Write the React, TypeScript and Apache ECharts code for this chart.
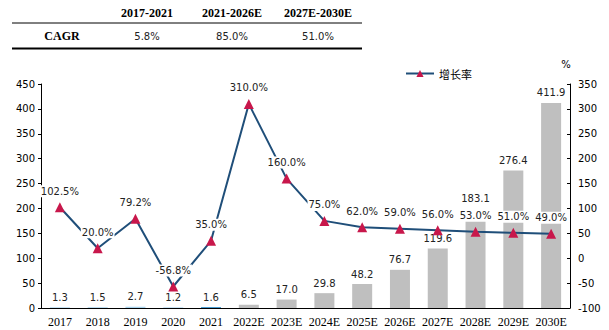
import React, { useEffect, useRef } from "react";
import * as echarts from "echarts";

const categories = ["2017", "2018", "2019", "2020", "2021", "2022E", "2023E", "2024E", "2025E", "2026E", "2027E", "2028E", "2029E", "2030E"];
const marketSize = [1.3, 1.5, 2.7, 1.2, 1.6, 6.5, 17.0, 29.8, 48.2, 76.7, 119.6, 183.1, 276.4, 411.9];
const growthRate = [102.5, 20.0, 79.2, -56.8, 35.0, 310.0, 160.0, 75.0, 62.0, 59.0, 56.0, 53.0, 51.0, 49.0];
const cagrPeriods = ["2017-2021", "2021-2026E", "2027E-2030E"];
const cagrValues = ["5.8%", "85.0%", "51.0%"];
const cagrLabel = "CAGR";
const legendName = "增长率";

const SANS = "DejaVu Sans";
const SERIF = "Liberation Serif";

export default function App() {
  const ref = useRef<HTMLDivElement>(null);
  useEffect(() => {
    if (!ref.current) return;
    const chart = echarts.init(ref.current, null, { renderer: "svg" });
    const colX = [147, 232, 318];
    const graphic: any[] = [
      { type: "line", shape: { x1: 12, y1: 23, x2: 362, y2: 23 }, style: { stroke: "#000", lineWidth: 1 } },
      { type: "line", shape: { x1: 12, y1: 48.5, x2: 362, y2: 48.5 }, style: { stroke: "#000", lineWidth: 2 } },
      { type: "text", x: 62, y: 36, style: { text: cagrLabel, font: `bold 12px "${SERIF}"`, fill: "#000", textAlign: "center", textVerticalAlign: "middle" } },
      { type: "text", x: 566, y: 64, style: { text: "%", font: `10px "${SANS}"`, fill: "#000", textAlign: "center", textVerticalAlign: "middle" } },
    ];
    cagrPeriods.forEach((p, i) => {
      graphic.push({ type: "text", x: colX[i], y: 13, style: { text: p, font: `bold 12px "${SERIF}"`, fill: "#000", textAlign: "center", textVerticalAlign: "middle" } });
      graphic.push({ type: "text", x: colX[i], y: 36, style: { text: cagrValues[i], font: `10px "${SANS}"`, fill: "#222", textAlign: "center", textVerticalAlign: "middle" } });
    });
    const barData = marketSize.map((v, i) =>
      i === 11 ? { value: v, label: { distance: 13 } } : { value: v }
    );
    chart.setOption({
      animation: false,
      backgroundColor: "#fff",
      grid: { left: 41, right: 39, top: 84, bottom: 22, containLabel: false },
      legend: {
        data: [legendName],
        left: 400,
        top: 63,
        itemWidth: 28,
        itemHeight: 9,
        textStyle: { fontFamily: "Noto Sans CJK SC", fontSize: 11, color: "#000" },
      },
      xAxis: {
        type: "category",
        data: categories,
        axisLine: { lineStyle: { color: "#000", width: 1 } },
        axisTick: { show: false },
        axisLabel: { interval: 0, fontFamily: SERIF, fontSize: 12, color: "#000", margin: 8 },
      },
      yAxis: [
        {
          type: "value",
          min: 0,
          max: 450,
          interval: 50,
          axisLine: { show: true, lineStyle: { color: "#000" } },
          axisTick: { show: true, length: 3, lineStyle: { color: "#000" } },
          splitLine: { show: false },
          axisLabel: { fontFamily: SANS, fontSize: 10, color: "#000", margin: 6 },
        },
        {
          type: "value",
          position: "right",
          min: -100,
          max: 350,
          interval: 50,
          axisLine: { show: true, lineStyle: { color: "#000" } },
          axisTick: { show: true, inside: true, length: 3, lineStyle: { color: "#000" } },
          splitLine: { show: false },
          axisLabel: { fontFamily: SANS, fontSize: 10, color: "#000", margin: 8 },
        },
      ],
      series: [
        {
          name: "市场规模",
          type: "bar",
          yAxisIndex: 0,
          barWidth: 20,
          data: barData,
          itemStyle: {
            color: (p: any) => (p.dataIndex < 4 ? "#A9D4EE" : p.dataIndex === 4 ? "#1C86C8" : "#BFBFBF"),
          },
          label: { show: true, position: "top", distance: 5, fontFamily: SANS, fontSize: 10, color: "#222", formatter: (p: any) => Number(p.value).toFixed(1) },
          z: 2,
        },
        {
          name: legendName,
          type: "line",
          yAxisIndex: 1,
          data: growthRate,
          symbol: "triangle",
          symbolSize: 10,
          lineStyle: { color: "#1F4E79", width: 2 },
          itemStyle: { color: "#C8174B" },
          label: {
            show: true,
            position: "top",
            distance: 5,
            fontFamily: SANS,
            fontSize: 10,
            color: "#222",
            backgroundColor: "#fff",
            padding: [1, 1],
            formatter: (p: any) => Number(p.value).toFixed(1) + "%",
          },
          z: 3,
        },
      ],
      graphic,
    });
    return () => chart.dispose();
  }, []);
  return <div ref={ref} style={{ position: "fixed", left: 0, top: 0, width: 609, height: 330 }} />;
}
